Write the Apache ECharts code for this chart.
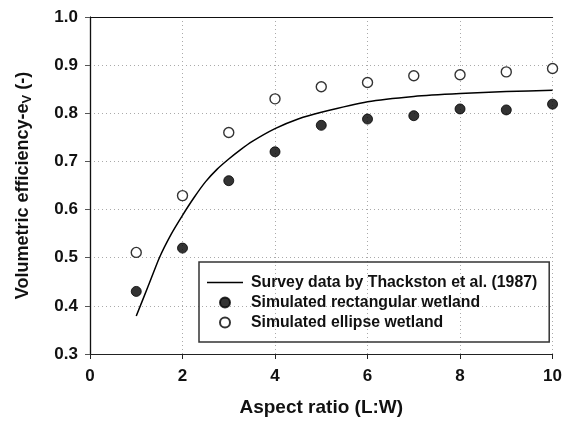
<!DOCTYPE html>
<html>
<head>
<meta charset="utf-8">
<script src="https://cdn.jsdelivr.net/npm/echarts@6/dist/echarts.min.js"></script>
<style>
  html, body { margin: 0; padding: 0; background: #fff; }
  #chart { width: 565px; height: 427px; }
</style>
</head>
<body>
<div id="chart"></div>
<script>
// aspect ratios of the simulated wetlands
const ratios = [1, 2, 3, 4, 5, 6, 7, 8, 9, 10];
const rectEff = [0.43, 0.52, 0.66, 0.72, 0.775, 0.788, 0.795, 0.809, 0.807, 0.819];
const ellipseEff = [0.511, 0.629, 0.76, 0.83, 0.855, 0.864, 0.878, 0.88, 0.886, 0.893];
// survey curve
const surveyX = [1, 1.25, 1.5, 1.75, 2, 2.25, 2.5, 2.75, 3, 3.25, 3.5, 4, 4.5, 5, 6, 7, 8, 9, 10];
const surveyY = [0.379, 0.439, 0.5, 0.548, 0.588, 0.625, 0.658, 0.684, 0.705, 0.724, 0.741, 0.768, 0.788, 0.802, 0.824, 0.835, 0.841, 0.845, 0.848];

const pair = (xs, ys) => xs.map((x, i) => [x, ys[i]]);

let chart = echarts.init(document.getElementById('chart'));
const fnt = 'Arial, "Liberation Sans", sans-serif';
const frame = { show: true, lineStyle: { color: '#111', width: 1.2 } };

chart.setOption({
  animation: false,
  grid: { left: 90, right: 8, top: 17, bottom: 73 },
  legend: {
    orient: 'vertical',
    left: 199, top: 262,
    width: 350,
    padding: [12, 12, 11, 8],
    borderColor: '#333', borderWidth: 1.5,
    itemWidth: 36, itemHeight: 10, itemGap: 3,
    textStyle: { fontFamily: fnt, fontWeight: 'bold', fontSize: 15.8, lineHeight: 17, color: '#111', padding: [0, 0, 0, 3] },
    data: [
      { name: 'Survey data by Thackston et al. (1987)', icon: 'path://M0,0 L36,0 L36,1.3 L0,1.3 Z' },
      { name: 'Simulated rectangular wetland' },
      { name: 'Simulated ellipse wetland' }
    ]
  },
  xAxis: [{
    type: 'value', min: 0, max: 10, interval: 2,
    name: 'Aspect ratio (L:W)', nameLocation: 'middle', nameGap: 44,
    nameTextStyle: { fontFamily: fnt, fontWeight: 'bold', fontSize: 19, color: '#111' },
    axisLine: { lineStyle: { color: '#222', width: 1.2 } },
    axisTick: { inside: false, length: 5, lineStyle: { color: '#222' } },
    axisLabel: { fontFamily: fnt, fontWeight: 'bold', fontSize: 17, color: '#111', margin: 14 },
    splitLine: { show: true, lineStyle: { color: '#aaa', type: [1, 3], width: 1 } }
  }, {
    type: 'value', position: 'top', min: 0, max: 10, interval: 2,
    axisLine: frame, axisTick: { show: false }, axisLabel: { show: false }, splitLine: { show: false }
  }],
  yAxis: [{
    type: 'value', min: 0.3, max: 1.0, interval: 0.1,
    name: '{n|Volumetric efficiency-e}{s|V}{n| (-)}', nameLocation: 'middle', nameGap: 56,
    nameTextStyle: {
      rich: {
        n: { fontFamily: fnt, fontWeight: 'bold', fontSize: 18, color: '#111' },
        s: { fontFamily: fnt, fontWeight: 'bold', fontSize: 13, color: '#111', verticalAlign: 'bottom', padding: [8, 0, 0, 0] }
      }
    },
    axisLine: { lineStyle: { color: '#555', width: 1.2 } },
    axisTick: { inside: false, length: 5, lineStyle: { color: '#555' } },
    axisLabel: { fontFamily: fnt, fontWeight: 'bold', fontSize: 17, color: '#111', margin: 12,
      formatter: v => v.toFixed(1) },
    splitLine: { show: true, lineStyle: { color: '#aaa', type: [1, 3], width: 1 } }
  }, {
    type: 'value', position: 'right', min: 0.3, max: 1.0, interval: 0.1,
    axisLine: frame, axisTick: { show: false }, axisLabel: { show: false }, splitLine: { show: false }
  }],
  series: [
    {
      name: 'Survey data by Thackston et al. (1987)',
      type: 'line',
      data: pair(surveyX, surveyY),
      smooth: 0.2,
      showSymbol: false,
      lineStyle: { color: '#000', width: 1.5 },
      itemStyle: { color: '#000' }
    },
    {
      name: 'Simulated rectangular wetland',
      type: 'scatter',
      data: pair(ratios, rectEff),
      symbol: 'circle', symbolSize: 10,
      itemStyle: { color: '#000', borderColor: '#000', borderWidth: 1 }
    },
    {
      name: 'Simulated ellipse wetland',
      type: 'scatter',
      data: pair(ratios, ellipseEff),
      symbol: 'circle', symbolSize: 10,
      itemStyle: { color: '#fff', borderColor: '#000', borderWidth: 1.4 }
    }
  ]
});
</script>
</body>
</html>
